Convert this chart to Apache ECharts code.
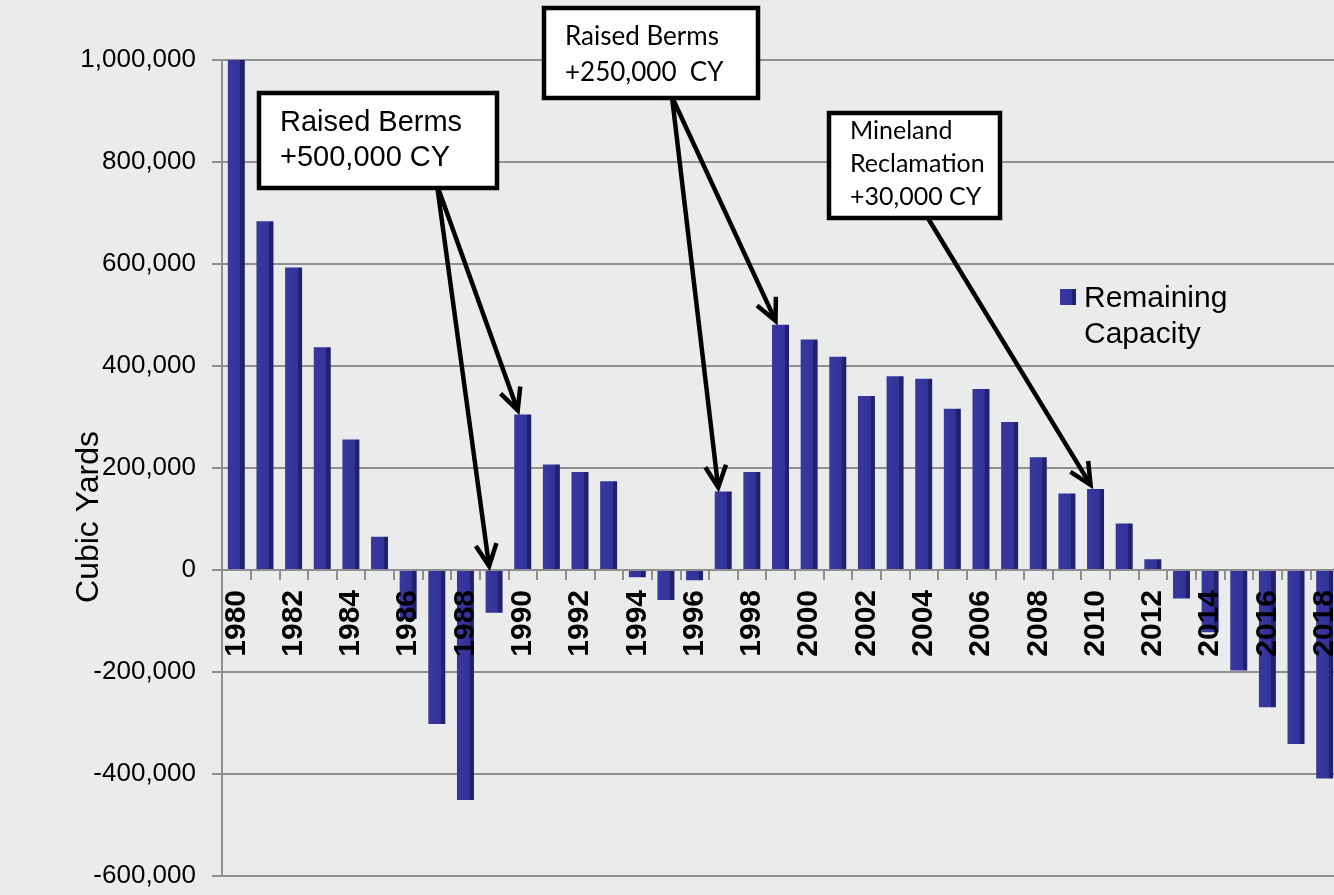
<!DOCTYPE html>
<html>
<head>
<meta charset="utf-8">
<script src="https://cdn.jsdelivr.net/npm/echarts@6/dist/echarts.min.js"></script>
<style>
html,body{margin:0;padding:0;background:#eaeceb;}
#chart{width:1334px;height:895px;}
</style>
</head>
<body>
<div id="chart"></div>
<script>
// ---- data ----
const years = ['1980','1981','1982','1983','1984','1985','1986','1987','1988','1989',
  '1990','1991','1992','1993','1994','1995','1996','1997','1998','1999',
  '2000','2001','2002','2003','2004','2005','2006','2007','2008','2009',
  '2010','2011','2012','2013','2014','2015','2016','2017','2018'];
const remainingCapacity = [1000000, 684000, 593000, 437000, 256000, 65000, -96000, -302000, -451000, -84000,
  305000, 207000, 192000, 174000, -14000, -59000, -20000, 154000, 192000, 481000,
  452000, 418000, 341000, 380000, 375000, 316000, 355000, 290000, 221000, 150000,
  159000, 91000, 21000, -56000, -122000, -197000, -269000, -341000, -409000];
const seriesName = 'Remaining Capacity';
const legendLabel = 'Remaining\nCapacity';
const yAxisName = 'Cubic Yards';
const yMin = -600000, yMax = 1000000, yStep = 200000;

// annotation texts and the bars they point at
const noteBerms500 = ['Raised Berms', '+500,000 CY'];
const noteBerms250 = ['Raised Berms', '+250,000  CY'];
const noteMineland = ['Mineland', 'Reclamation', '+30,000 CY'];
const targetsBerms500 = [['1989', 0], ['1990', 305000]];
const targetsBerms250 = [['1997', 154000], ['1999', 481000]];
const targetsMineland = [['2010', 159000]];

// ---- layout ----
const GRID = {left: 222, top: 60, width: 1117, height: 816};
// the category axis sits on the zero line: shift it up from the grid bottom
const zeroOffset = -GRID.height * (0 - yMin) / (yMax - yMin);

// ---- chart ----
const chart = echarts.init(document.getElementById('chart'), null, {renderer: 'canvas'});
const gridColor = '#8f8f8f';
const fmt = v => v.toLocaleString('en-US');

chart.setOption({
  backgroundColor: '#eaeceb',
  animation: false,
  textStyle: {fontFamily: 'Liberation Sans, Arial, sans-serif'},
  grid: Object.assign({containLabel: false, outerBoundsMode: 'none'}, GRID),
  legend: {
    data: [seriesName],
    left: 1055, top: 276,
    icon: 'path://M0,0L16,0L16,16L0,16Z M0,56L0.01,56L0.01,56.01Z',
    itemWidth: 16, itemHeight: 68, itemGap: 6,
    formatter: () => legendLabel,
    textStyle: {fontSize: 30, lineHeight: 36, color: '#000', padding: [0, 0, 0, 3]}
  },
  xAxis: {
    type: 'category',
    data: years,
    position: 'bottom',
    offset: zeroOffset,
    z: 5,
    axisLine: {onZero: false, lineStyle: {color: gridColor, width: 2}},
    axisTick: {show: true, interval: 0, length: 10, lineStyle: {color: gridColor, width: 2}},
    axisLabel: {interval: 1, rotate: 90, fontWeight: 'bold', fontSize: 30, color: '#000', margin: 20},
    splitLine: {show: false}
  },
  yAxis: {
    type: 'value',
    min: yMin, max: yMax, interval: yStep,
    name: yAxisName,
    nameLocation: 'middle', nameRotate: 90, nameGap: 117,
    nameMoveOverlap: false,
    nameTextStyle: {fontSize: 32, color: '#000', padding: [0, 98, 0, 0]},
    axisLine: {show: true, lineStyle: {color: gridColor, width: 2}},
    axisTick: {show: true, length: 10, lineStyle: {color: gridColor, width: 2}},
    axisLabel: {fontSize: 26, color: '#000', margin: 26, formatter: fmt},
    splitLine: {show: true, lineStyle: {color: gridColor, width: 2}}
  },
  series: [{
    name: seriesName,
    type: 'bar',
    data: remainingCapacity,
    barWidth: 17,
    z: 2,
    itemStyle: {
      color: new echarts.graphic.LinearGradient(0, 0, 1, 0, [
        {offset: 0, color: '#3838a0'},
        {offset: 0.74, color: '#323298'},
        {offset: 0.74, color: '#22226c'},
        {offset: 1, color: '#22226c'}
      ])
    }
  }]
});

// ---- annotations (boxes + arrows), arrow tips from the axes ----
function arrow(x1, y1, x2, y2) {
  const dx = x2 - x1, dy = y2 - y1, len = Math.hypot(dx, dy);
  const ux = dx / len, uy = dy / len, L = 24, a = Math.PI / 7;
  const h1 = [x2 - L * (ux * Math.cos(a) - uy * Math.sin(a)), y2 - L * (uy * Math.cos(a) + ux * Math.sin(a))];
  const h2 = [x2 - L * (ux * Math.cos(-a) - uy * Math.sin(-a)), y2 - L * (uy * Math.cos(-a) + ux * Math.sin(-a))];
  return [
    {type: 'line', shape: {x1, y1, x2: x2 - ux * 2, y2: y2 - uy * 2}, style: {stroke: '#000', lineWidth: 4.5}, z: 50},
    {type: 'polyline', shape: {points: [h1, [x2, y2], h2]}, style: {stroke: '#000', lineWidth: 4.5, fill: null, lineJoin: 'miter'}, z: 50}
  ];
}
function tip(t) {
  const p = chart.convertToPixel({seriesIndex: 0}, t);
  return [p[0] - 5, p[1] - 4];
}
function box(x, y, w, h, lines, font, lineYs, tx) {
  const els = [{type: 'rect', shape: {x, y, width: w, height: h},
    style: {fill: '#fff', stroke: '#000', lineWidth: 4.5}, z: 60}];
  lines.forEach((s, i) => els.push({type: 'text', x: tx, y: lineYs[i], z: 61,
    style: {text: s, font, fill: '#000', textVerticalAlign: 'middle', verticalAlign: 'middle'}}));
  return els;
}
function drawNotes() {
  let g = [];
  targetsBerms500.forEach(t => { const p = tip(t); g = g.concat(arrow(437, 185, p[0], p[1])); });
  targetsBerms250.forEach(t => { const p = tip(t); g = g.concat(arrow(672, 97, p[0], p[1])); });
  targetsMineland.forEach(t => { const p = tip(t); g = g.concat(arrow(926, 215, p[0], p[1])); });
  g = g.concat(box(259, 93, 238, 95, noteBerms500, '29px "Liberation Sans", Arial, sans-serif', [123, 158], 280));
  g = g.concat(box(544, 8, 214, 90, noteBerms250, '26px Lato, "Noto Sans", sans-serif', [37, 73], 565));
  g = g.concat(box(829, 113, 171, 105, noteMineland, '25px Lato, "Noto Sans", sans-serif', [131, 164, 197], 850));
  chart.setOption({graphic: {elements: g}});
}
drawNotes();
</script>
</body>
</html>
